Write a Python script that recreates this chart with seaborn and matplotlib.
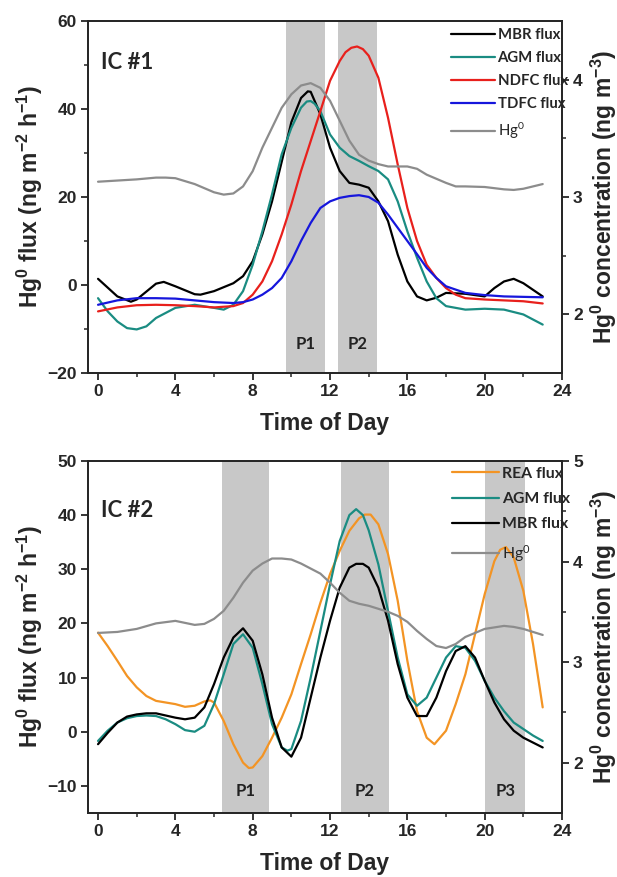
import numpy as np
import seaborn as sns
import matplotlib.pyplot as plt

sns.set_style("ticks")
plt.rcParams['font.family'] = ['Liberation Sans', 'DejaVu Sans']
plt.rcParams['mathtext.default'] = 'regular'

# ---- IC #1 (top panel) ----
t1_mbr = [0, 1, 1.7, 2, 3, 3.4, 4, 5, 5.3, 6, 7, 7.5, 8, 8.5, 9, 9.5, 10, 10.5, 10.85, 11, 11.5, 12, 12.5, 13,
          13.5, 14, 14.5, 15, 15.5, 16, 16.5, 17, 17.5, 18, 19, 20, 20.5, 21, 21.5, 22, 22.5, 23]
mbr1 = [1.4, -2.6, -3.8, -3.3, 0.3, 0.7, -0.3, -2.1, -2.2, -1.4, 0.4, 2.0, 5.4, 11.5, 19.0, 28.0, 37.0, 42.5, 44.0,
        43.9, 38.8, 31.2, 25.9, 23.2, 22.8, 22.1, 19.0, 14.5, 6.9, 0.8, -2.6, -3.5, -2.9, -1.8, -2.0, -2.6, -0.7,
        0.8, 1.4, 0.4, -1.1, -2.6]

t1_agm = [0, 0.5, 1, 1.5, 2, 2.5, 3, 4, 5, 6, 6.5, 7, 7.5, 8, 8.5, 9, 9.5, 10, 10.5, 10.8, 11, 11.2, 11.5, 12, 12.5,
          13, 13.5, 14, 14.5, 15, 15.5, 16, 16.5, 17, 17.5, 18, 19, 20, 21, 22, 23]
agm1 = [-3.0, -6.0, -8.3, -9.8, -10.1, -9.4, -7.5, -5.2, -4.5, -5.2, -5.6, -4.5, -1.4, 4.6, 12.2, 20.6, 29.7, 35.7,
        40.3, 41.7, 41.8, 41.2, 39.5, 34.2, 31.2, 29.3, 28.2, 27.0, 25.9, 24.0, 19.0, 12.2, 6.2, 0.8, -3.0, -4.8,
        -5.6, -5.4, -5.6, -6.7, -9.0]

t1_ndfc = [0, 1, 2, 3, 4, 5, 6, 7, 7.5, 8, 8.5, 9, 9.5, 10, 10.5, 11, 11.5, 12, 12.5, 12.8, 13.1, 13.4, 13.7, 14,
           14.5, 15, 15.5, 16, 16.5, 17, 17.5, 18, 18.5, 19, 20, 21, 22, 23]
ndfc1 = [-6.0, -5.1, -4.6, -4.5, -4.6, -4.8, -5.1, -4.8, -4.1, -2.2, 0.8, 5.4, 11.5, 18.3, 25.9, 32.7, 39.5, 46.4,
         50.9, 52.9, 53.9, 54.2, 53.6, 52.1, 47.1, 38.0, 27.4, 17.5, 10.0, 4.6, 1.6, -0.7, -2.2, -3.0, -3.3, -3.5,
         -3.7, -4.2]

t1_tdfc = [0, 1, 2, 3, 4, 5, 6, 7, 7.5, 8, 8.5, 9, 9.5, 10, 10.5, 11, 11.5, 12, 12.5, 13, 13.5, 14, 14.5, 15, 15.5,
           16, 16.5, 17, 17.5, 18, 19, 20, 21, 22, 23]
tdfc1 = [-4.5, -3.5, -3.0, -3.0, -3.1, -3.5, -3.9, -4.1, -3.9, -3.3, -2.2, -0.7, 1.6, 5.4, 10.0, 14.1, 17.5, 19.0,
         19.8, 20.2, 20.4, 20.0, 18.7, 16.0, 13.0, 10.0, 7.0, 3.9, 1.6, -0.3, -1.8, -2.3, -2.6, -2.7, -2.8]

t1_hg = [0, 1, 2, 3, 3.5, 4, 5, 6, 6.5, 7, 7.5, 8, 8.5, 9, 9.5, 10, 10.5, 11, 11.5, 12, 12.5, 13, 13.5, 14, 14.5,
         15, 16, 16.5, 17, 18, 18.5, 19, 20, 21, 21.5, 22, 23]
hg1 = [3.13, 3.14, 3.15, 3.165, 3.165, 3.16, 3.11, 3.04, 3.02, 3.03, 3.09, 3.22, 3.42, 3.59, 3.76, 3.875, 3.95,
       3.97, 3.93, 3.82, 3.65, 3.48, 3.36, 3.31, 3.28, 3.26, 3.26, 3.24, 3.19, 3.12, 3.09, 3.09, 3.085, 3.065,
       3.06, 3.07, 3.11]

# ---- IC #2 (bottom panel) ----
t2_rea = [0, 0.5, 1, 1.5, 2, 2.5, 3, 3.5, 4, 4.5, 5, 5.5, 5.8, 6, 6.5, 7, 7.5, 7.8, 8, 8.5, 9, 9.5, 10, 10.5, 11,
          11.5, 12, 12.5, 13, 13.5, 13.8, 14.1, 14.5, 15, 15.5, 16, 16.5, 17, 17.4, 18, 18.5, 19, 19.5, 20, 20.5,
          20.8, 21.1, 21.5, 22, 22.5, 23]
rea2 = [18.3, 15.8, 13.1, 10.3, 8.2, 6.6, 5.7, 5.4, 5.1, 4.6, 4.8, 5.6, 5.8, 5.4, 2.0, -2.3, -5.7, -6.7, -6.6, -4.5,
        -1.1, 2.6, 6.9, 12.5, 18.0, 23.8, 29.1, 33.4, 37.1, 39.4, 40.1, 40.1, 38.3, 32.8, 24.2, 13.1, 3.8, -1.1,
        -2.3, 0.2, 5.1, 10.6, 18.0, 25.4, 31.5, 33.6, 34.1, 32.2, 26.0, 16.2, 4.5]

t2_agm = [0, 0.5, 1, 1.5, 2, 2.5, 3, 3.5, 4, 4.5, 5, 5.5, 6, 6.5, 7, 7.5, 8, 8.5, 9, 9.5, 9.8, 10, 10.5, 11, 11.5,
          12, 12.5, 13, 13.35, 13.7, 14, 14.5, 15, 15.5, 16, 16.5, 17, 17.5, 18, 18.5, 19, 19.5, 20, 20.5, 21,
          21.5, 22, 22.5, 23]
agm2 = [-1.7, 0.2, 1.7, 2.5, 2.9, 3.0, 2.9, 2.3, 1.4, 0.3, 0.0, 1.1, 5.1, 10.6, 16.2, 18.0, 15.5, 8.8, 1.4, -2.9,
        -3.5, -3.2, 2.0, 10.0, 18.6, 27.2, 35.2, 40.0, 41.1, 40.0, 37.2, 30.9, 22.3, 13.7, 6.9, 4.8, 6.3, 10.0,
        13.7, 15.8, 15.5, 13.1, 9.4, 6.3, 3.8, 1.7, 0.5, -0.7, -1.7]

t2_mbr = [0, 0.5, 1, 1.5, 2, 2.5, 3, 3.5, 4, 4.5, 5, 5.5, 6, 6.5, 7, 7.5, 8, 8.5, 9, 9.5, 10, 10.5, 11, 11.5, 12,
          12.5, 13, 13.35, 13.7, 14, 14.5, 15, 15.5, 16, 16.5, 17, 17.5, 18, 18.5, 19, 19.5, 20, 20.5, 21, 21.5, 22,
          22.5, 23]
mbr2 = [-2.3, -0.2, 1.7, 2.8, 3.2, 3.4, 3.4, 3.0, 2.6, 2.3, 2.6, 4.5, 8.8, 13.7, 17.4, 19.1, 16.8, 10.6, 2.6, -2.9,
        -4.6, -1.1, 6.3, 13.7, 20.5, 26.6, 30.3, 31.0, 31.0, 30.3, 26.6, 20.5, 12.5, 6.3, 2.9, 2.9, 6.3, 11.2, 14.9,
        15.8, 13.7, 9.4, 5.4, 2.3, 0.2, -1.1, -2.0, -2.9]

t2_hg = [0, 1, 2, 3, 4, 5, 5.5, 6, 6.5, 7, 7.5, 8, 8.5, 9, 9.5, 10, 10.5, 11, 11.5, 12, 12.5, 13, 13.5, 14, 14.5,
         15, 15.5, 16, 16.5, 17, 17.5, 18, 18.5, 19, 20, 21, 21.5, 22, 23]
hg2 = [3.29, 3.30, 3.33, 3.385, 3.41, 3.37, 3.38, 3.43, 3.51, 3.64, 3.79, 3.91, 3.98, 4.03, 4.03, 4.02, 3.98, 3.93,
       3.88, 3.79, 3.69, 3.61, 3.58, 3.56, 3.53, 3.50, 3.46, 3.40, 3.31, 3.23, 3.16, 3.14, 3.18, 3.25, 3.33, 3.36,
       3.35, 3.33, 3.27]

periods1 = [(9.7, 11.75, 'P1'), (12.4, 14.45, 'P2')]
periods2 = [(6.4, 8.83, 'P1'), (12.56, 15.05, 'P2'), (20.04, 22.1, 'P3')]

C_MBR = '#000000'
C_AGM = '#1a8c82'
C_NDFC = '#e8201c'
C_TDFC = '#1616dc'
C_HG = '#8c8c8c'
C_REA = '#f39424'
BAND = '#c8c8c8'

FLUX_LABEL = 'Hg$^0$ flux (ng m$^{-2}$ h$^{-1}$)'
CONC_LABEL = 'Hg$^0$ concentration (ng m$^{-3}$)'
LEG_FONT = ['Lato', 'DejaVu Sans']

fig = plt.figure(figsize=(6.17, 8.77), dpi=100)
ax1 = fig.add_axes([0.1426, 0.5747, 0.7683, 0.4014])
ax2 = fig.add_axes([0.1426, 0.0730, 0.7683, 0.4014])


def style_axes(ax, twin, ylim, yt, yminor, rlim, rt, rminor):
    ax.set_xlim(-0.52, 24)
    ax.set_ylim(*ylim)
    ax.set_xticks(range(0, 25, 4))
    ax.set_xticks(range(2, 24, 4), minor=True)
    ax.set_yticks(yt)
    ax.set_yticks(yminor, minor=True)
    twin.set_ylim(*rlim)
    twin.set_yticks(rt)
    twin.set_yticks(rminor, minor=True)
    for a in (ax, twin):
        for s in a.spines.values():
            s.set_linewidth(1.3)
            s.set_visible(True)
        a.tick_params(which='major', direction='out', length=5, width=1.3, labelsize=12.5, pad=3)
        a.tick_params(which='minor', direction='out', length=3, width=1.1)
        for lab in a.get_xticklabels() + a.get_yticklabels():
            lab.set_fontweight('bold')
    ax.set_xlabel('Time of Day', fontsize=16.5, fontweight='bold', labelpad=9)
    ax.set_ylabel(FLUX_LABEL, fontsize=16.5, fontweight='bold', labelpad=2)
    twin.set_ylabel(CONC_LABEL, fontsize=16.5, fontweight='bold', labelpad=4)


def bands(ax, periods, ytext):
    for a, b, name in periods:
        ax.axvspan(a, b, color=BAND, lw=0, zorder=0)
        ax.text((a + b) / 2, ytext, name, ha='center', va='center', fontsize=12,
                fontweight='bold', family=LEG_FONT, color='#222222')


# top panel
tw1 = ax1.twinx()
bands(ax1, periods1, -13.5)
lw = 1.6
sns.lineplot(x=t1_mbr, y=mbr1, ax=ax1, color=C_MBR, lw=lw, label='MBR flux')
sns.lineplot(x=t1_agm, y=agm1, ax=ax1, color=C_AGM, lw=lw, label='AGM flux')
sns.lineplot(x=t1_ndfc, y=ndfc1, ax=ax1, color=C_NDFC, lw=lw, label='NDFC flux')
sns.lineplot(x=t1_tdfc, y=tdfc1, ax=ax1, color=C_TDFC, lw=lw, label='TDFC flux')
sns.lineplot(x=t1_hg, y=hg1, ax=tw1, color=C_HG, lw=lw, label='Hg$^0$')
style_axes(ax1, tw1, (-20, 60), range(-20, 61, 20), range(-10, 60, 20), (1.5, 4.5), [2, 3, 4], [2.5, 3.5])
ax1.text(0.17, 50.5, 'IC #1', fontsize=16, fontweight='bold', family=LEG_FONT, va='center')

# bottom panel
tw2 = ax2.twinx()
bands(ax2, periods2, -11)
sns.lineplot(x=t2_rea, y=rea2, ax=ax2, color=C_REA, lw=lw, label='REA flux')
sns.lineplot(x=t2_agm, y=agm2, ax=ax2, color=C_AGM, lw=lw, label='AGM flux')
sns.lineplot(x=t2_mbr, y=mbr2, ax=ax2, color=C_MBR, lw=lw, label='MBR flux')
sns.lineplot(x=t2_hg, y=hg2, ax=tw2, color=C_HG, lw=lw, label='Hg$^0$')
style_axes(ax2, tw2, (-15, 50), range(-10, 51, 10), [], (1.5, 5), [2, 3, 4, 5], [2.5, 3.5, 4.5])
ax2.text(0.17, 40.8, 'IC #2', fontsize=16, fontweight='bold', family=LEG_FONT, va='center')

legend_opts = [
    dict(size=10.7, spacing=0.62, anchor=(1.015, 0.985)),
    dict(size=11.3, spacing=0.72, anchor=(1.02, 0.988)),
]
for (ax, tw), opt in zip(((ax1, tw1), (ax2, tw2)), legend_opts):
    h1, l1 = ax.get_legend_handles_labels()
    h2, l2 = tw.get_legend_handles_labels()
    for a in (ax, tw):
        if a.get_legend() is not None:
            a.get_legend().remove()
    leg = tw.legend(h1 + h2, l1 + l2, loc='upper right', bbox_to_anchor=opt['anchor'], frameon=False,
                    borderaxespad=0, borderpad=0.1, handlelength=3.0, handletextpad=0.15,
                    labelspacing=opt['spacing'],
                    prop={'family': LEG_FONT, 'weight': 'bold', 'size': opt['size']})
    for txt in leg.get_texts():
        if txt.get_text().startswith('Hg'):
            txt.set_fontweight('normal')

fig.savefig('out.png', dpi=100)
